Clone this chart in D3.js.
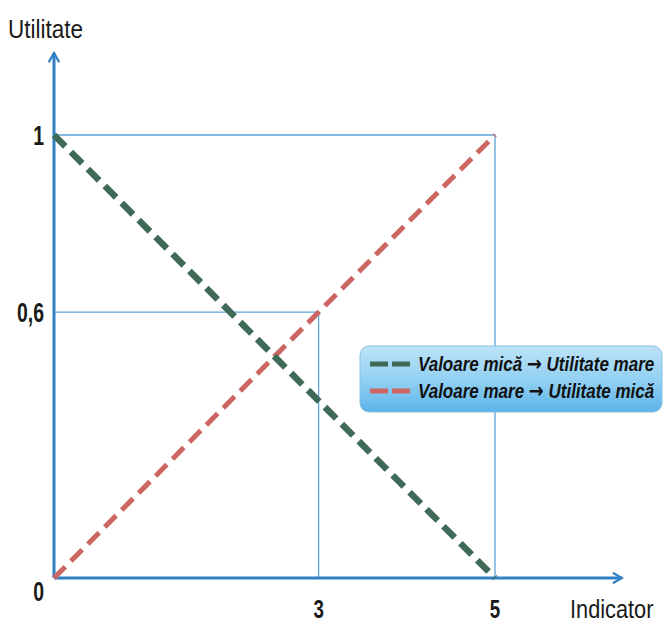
<!DOCTYPE html>
<html>
<head>
<meta charset="utf-8">
<script src="https://cdn.jsdelivr.net/npm/d3@7"></script>
<style>
  body { margin: 0; background: #fff; }
  svg text { font-family: "Liberation Sans", Arial, sans-serif; }
</style>
</head>
<body>
<div id="chart"></div>
<script>
// data
let seriesNames = [["Valoare mică", "Utilitate mare"], ["Valoare mare", "Utilitate mică"]]
let greenLine = [[0, 1], [5, 0]]
let redLine = [[0, 0], [5, 1]]
let xTicks = [3, 5]
let yTicks = [0, 0.6, 1]
let yTickLabels = ["0", "0,6", "1"]
// guide lines (rectangles to the 0.6 and 1 levels)
let guides = [[3, 0.6], [5, 1]]

let width = 667, height = 625

let svg = d3.select("#chart")
    .append("svg")
        .attr("width", width)
        .attr("height", height)

let x = d3.scaleLinear().domain([0, 5]).range([54, 495])
let y = d3.scaleLinear().domain([0, 1]).range([578, 135])

let axisColour = "#2f80c4"
let gridColour = "#5fa3da"

//narrow text: squeeze horizontally like a condensed font
function narrowText(sel, tx, ty, anchor, sx){
    return sel.attr("transform", `translate(${tx},${ty}) scale(${sx},1)`)
        .attr("text-anchor", anchor)
}

//guide rectangles
guides.forEach(function(g){
    svg.append("path")
        .attr("d", `M${x(0)},${y(g[1])} H${x(g[0])} V${y(0)}`)
        .attr("fill", "none")
        .attr("stroke", gridColour)
        .attr("stroke-width", 1.3)
})

//arrow marker
let defs = svg.append("defs")
defs.append("marker")
    .attr("id", "arrow")
    .attr("viewBox", "0 0 10 10")
    .attr("refX", 8).attr("refY", 5)
    .attr("markerWidth", 4).attr("markerHeight", 4)
    .attr("orient", "auto")
    .append("path")
        .attr("d", "M1,1 L8,5 L1,9")
        .attr("fill", "none")
        .attr("stroke", axisColour)
        .attr("stroke-width", 1.8)
        .attr("stroke-linecap", "round")

//legend gradient
let grad = defs.append("linearGradient")
    .attr("id", "legendFill")
    .attr("x1", 0).attr("y1", 0).attr("x2", 0).attr("y2", 1)
grad.append("stop").attr("offset", "0%").attr("stop-color", "#bde3f8")
grad.append("stop").attr("offset", "55%").attr("stop-color", "#8fcff2")
grad.append("stop").attr("offset", "100%").attr("stop-color", "#5cb2e8")

//axes
svg.append("line")
    .attr("x1", x(0)).attr("y1", y(0))
    .attr("x2", 622).attr("y2", y(0))
    .attr("stroke", axisColour).attr("stroke-width", 3)
    .attr("marker-end", "url(#arrow)")
svg.append("line")
    .attr("x1", x(0)).attr("y1", y(0))
    .attr("x2", x(0)).attr("y2", 53)
    .attr("stroke", axisColour).attr("stroke-width", 3)
    .attr("marker-end", "url(#arrow)")

//dashed lines
let line = d3.line().x(d => x(d[0])).y(d => y(d[1]))

svg.append("path")
    .attr("d", line(redLine))
    .attr("stroke", "#cc6660")
    .attr("stroke-width", 5)
    .attr("stroke-dasharray", "16,8")
    .attr("fill", "none")

svg.append("path")
    .attr("d", line(greenLine))
    .attr("stroke", "#3f6a58")
    .attr("stroke-width", 6.5)
    .attr("stroke-dasharray", "16,8")
    .attr("fill", "none")

//tick labels
yTicks.forEach(function(d, i){
    let t = svg.append("text")
        .attr("font-size", 27)
        .attr("font-weight", "bold")
        .attr("fill", "#1a1a1a")
        .text(yTickLabels[i])
    narrowText(t, 44, d == 0 ? 601 : y(d) + 10, "end", 0.72)
})

xTicks.forEach(function(d){
    let t = svg.append("text")
        .attr("font-size", 25)
        .attr("font-weight", "bold")
        .attr("fill", "#1a1a1a")
        .text(d)
    narrowText(t, x(d), 618, "middle", 0.75)
})

//axis titles
narrowText(svg.append("text")
    .attr("font-size", 25)
    .attr("fill", "#1a1a1a")
    .text("Utilitate"), 8, 38, "start", 0.9)

narrowText(svg.append("text")
    .attr("font-size", 25)
    .attr("fill", "#1a1a1a")
    .text("Indicator"), 570, 618, "start", 0.87)

//legend
let legend = svg.append("g").attr("transform", "translate(360,346)")
legend.append("rect")
    .attr("width", 302).attr("height", 66)
    .attr("rx", 9)
    .attr("fill", "url(#legendFill)")
    .attr("stroke", "#86bfe3")
    .attr("stroke-width", 1)

let legendColours = ["#3f6a58", "#cc6660"]
seriesNames.forEach(function(name, i){
    let ly = 18 + i * 27
    legend.append("line")
        .attr("x1", 10).attr("x2", 50)
        .attr("y1", ly).attr("y2", ly)
        .attr("stroke", legendColours[i])
        .attr("stroke-width", 5)
        .attr("stroke-dasharray", "18,4")
    let t = legend.append("text")
        .attr("font-size", 20)
        .attr("font-style", "italic")
        .attr("font-weight", "bold")
        .attr("fill", "#111")
    t.append("tspan").text(name[0] + " ")
    t.append("tspan")
        .attr("font-family", "DejaVu Sans")
        .attr("font-size", 21)
        .text("\u2192")
    t.append("tspan").text(" " + name[1])
    narrowText(t, 58, ly + 7, "start", 0.85)
})
</script>
</body>
</html>
